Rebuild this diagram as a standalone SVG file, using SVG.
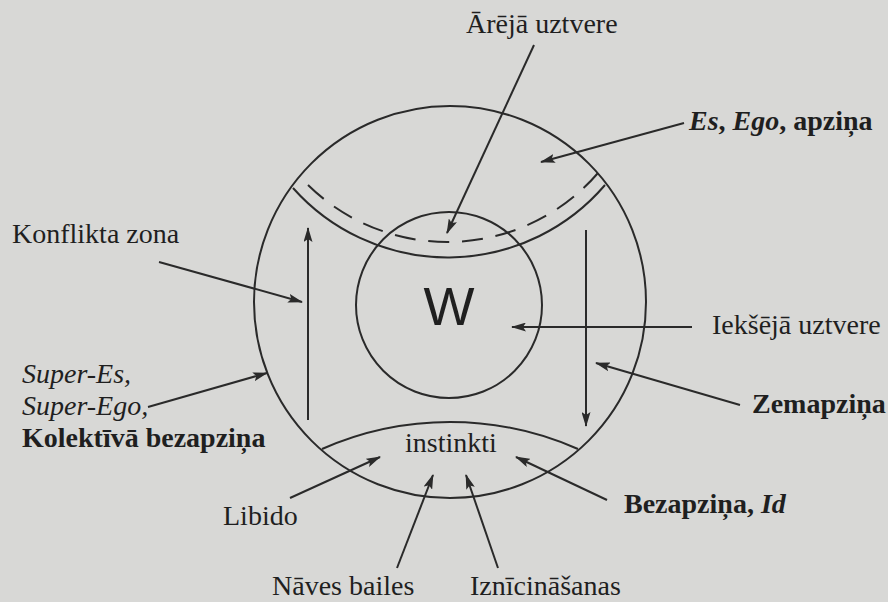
<svg xmlns="http://www.w3.org/2000/svg" width="888" height="602" viewBox="0 0 888 602">
<style>
  .bg { fill: #d8d8d6; }
  .ln { fill: none; stroke: #2a2a2a; stroke-width: 2; }
  .ar { fill: none; stroke: #2a2a2a; stroke-width: 2; marker-end: url(#ah); }
  .dash { fill: none; stroke: #2a2a2a; stroke-width: 2; stroke-dasharray: 21 12.8; }
  text { font-family: "Liberation Serif", "Times New Roman", serif; font-size: 28px; fill: #1f1f1f; }
  .b { font-weight: bold; }
  .i { font-style: italic; }
  .w { font-family: "Liberation Sans", Arial, sans-serif; font-size: 54px; }
</style>
<defs>
  <marker id="ah" viewBox="0 0 15 9" refX="14" refY="4.5" markerWidth="15" markerHeight="9" markerUnits="userSpaceOnUse" orient="auto">
    <path d="M0,0 L15,4.5 L0,9 L3,4.5 z" fill="#2a2a2a"/>
  </marker>
</defs>
<rect class="bg" x="0" y="0" width="888" height="602"/>

<g id="psyche">
  <circle class="ln" cx="450" cy="302" r="196"/>
</g>
<g id="ego-band">
  <path class="ln" d="M293,188 A207,207 0 0 0 605,185"/>
  <path class="dash" d="M308,185 A199,199 0 0 0 598,173"/>
</g>
<g id="self">
  <circle class="ln" cx="449" cy="305" r="93"/>
  <text class="w" x="449" y="325" text-anchor="middle">W</text>
</g>
<g id="instinct-band">
  <path class="ln" d="M322,449 A317,317 0 0 1 578,449"/>
  <text x="405" y="452">instinkti</text>
</g>

<g id="connectors">
  <line class="ar" x1="534" y1="45" x2="447" y2="233"/>
  <line class="ar" x1="684" y1="123" x2="541" y2="162"/>
  <line class="ar" x1="159" y1="262" x2="302" y2="302"/>
  <line class="ar" x1="148" y1="407" x2="267" y2="373"/>
  <line class="ar" x1="692" y1="327" x2="512" y2="327"/>
  <line class="ar" x1="740" y1="405" x2="596" y2="363"/>
  <line class="ar" x1="290" y1="498" x2="380" y2="457"/>
  <line class="ar" x1="397" y1="568" x2="433" y2="475"/>
  <line class="ar" x1="498" y1="568" x2="466" y2="475"/>
  <line class="ar" x1="607" y1="500" x2="516" y2="457"/>
  <line class="ar" x1="308" y1="420" x2="308" y2="228"/>
  <line class="ar" x1="586" y1="230" x2="586" y2="426"/>
</g>

<g id="label-areja"><text x="466" y="33">Ārējā uztvere</text></g>
<g id="label-es"><text class="b" x="689" y="130"><tspan class="i">Es</tspan>, <tspan class="i">Ego</tspan>, apziņa</text></g>
<g id="label-konflikta"><text x="12" y="243">Konflikta zona</text></g>
<g id="label-ieksEja"><text x="712" y="334">Iekšējā uztvere</text></g>
<g id="label-super">
  <text class="i" x="22" y="383">Super-Es,</text>
  <text class="i" x="22" y="415">Super-Ego,</text>
  <text class="b" x="22" y="447">Kolektīvā bezapziņa</text>
</g>
<g id="label-zemapzina"><text class="b" x="752" y="413">Zemapziņa</text></g>
<g id="label-libido"><text x="223" y="525">Libido</text></g>
<g id="label-bezapzina"><text class="b" x="624" y="513">Bezapziņa, <tspan class="i">Id</tspan></text></g>
<g id="label-naves"><text x="272" y="595">Nāves bailes</text></g>
<g id="label-iznicinasanas"><text x="470" y="595">Iznīcināšanas</text></g>
</svg>
